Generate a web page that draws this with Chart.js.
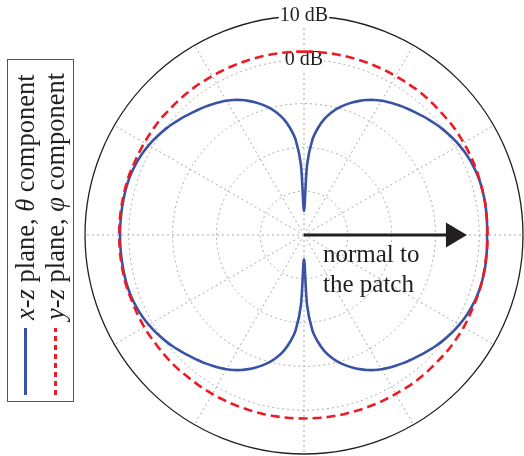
<!DOCTYPE html>
<html>
<head>
<meta charset="utf-8">
<title>Patch antenna radiation pattern</title>
<script src="https://cdn.jsdelivr.net/npm/chart.js@4.4.1/dist/chart.umd.min.js"></script>
<style>
  html, body { margin: 0; padding: 0; background: #fff; }
  body { width: 524px; height: 456px; overflow: hidden; position: relative; }
  #polar { position: absolute; left: 0; top: 0; }
  #legend {
    position: absolute; left: 7px; top: 402px;
    width: 343px; height: 67px; box-sizing: border-box;
    border: 1px solid #555; background: #fff;
    transform-origin: 0 0; transform: rotate(-90deg);
    padding-top: 2px;
    font: 26.5px "Liberation Serif", "Times New Roman", serif; color: #231f20;
  }
  .row { display: flex; align-items: center; height: 30px; white-space: nowrap; }
  .swatch { flex: none; width: 67px; height: 3px; margin-left: 6px; margin-right: 8px; }
  .solid { background: #3953a4; }
  .dashed { background: repeating-linear-gradient(to right, #ed1c24 0 5px, transparent 5px 9px); }
</style>
</head>
<body>
<canvas id="polar" width="540" height="480"></canvas>
<div id="legend">
  <div class="row"><span class="swatch solid"></span><span><i>x</i>-<i>z</i> plane, <i>θ</i> component</span></div>
  <div class="row"><span class="swatch dashed"></span><span><i>y</i>-<i>z</i> plane, <i>φ</i> component</span></div>
</div>
<script>
// angle from the patch normal (degrees, counter-clockwise), 2.5 degree steps
const angles = [
  0, 2.5, 5, 7.5, 10, 12.5, 15, 17.5, 20, 22.5, 25, 27.5,
  30, 32.5, 35, 37.5, 40, 42.5, 45, 47.5, 50, 52.5, 55, 57.5,
  60, 62.5, 65, 67.5, 70, 72.5, 75, 77.5, 80, 82.5, 85, 87.5,
  90, 92.5, 95, 97.5, 100, 102.5, 105, 107.5, 110, 112.5, 115, 117.5,
  120, 122.5, 125, 127.5, 130, 132.5, 135, 137.5, 140, 142.5, 145, 147.5,
  150, 152.5, 155, 157.5, 160, 162.5, 165, 167.5, 170, 172.5, 175, 177.5,
  180, 182.5, 185, 187.5, 190, 192.5, 195, 197.5, 200, 202.5, 205, 207.5,
  210, 212.5, 215, 217.5, 220, 222.5, 225, 227.5, 230, 232.5, 235, 237.5,
  240, 242.5, 245, 247.5, 250, 252.5, 255, 257.5, 260, 262.5, 265, 267.5,
  270, 272.5, 275, 277.5, 280, 282.5, 285, 287.5, 290, 292.5, 295, 297.5,
  300, 302.5, 305, 307.5, 310, 312.5, 315, 317.5, 320, 322.5, 325, 327.5,
  330, 332.5, 335, 337.5, 340, 342.5, 345, 347.5, 350, 352.5, 355, 357.5
];

// x-z plane, theta component (dB)
const xzTheta = [
  1.8, 1.85, 1.9, 1.95, 2.0, 2.0, 2.0, 1.95, 1.85, 1.7, 1.5, 1.25,
  0.95, 0.6, 0.2, -0.2, -0.65, -1.15, -1.65, -2.15, -2.6, -3.05, -3.55, -4.05,
  -4.6, -5.25, -6.0, -6.85, -7.8, -8.85, -10.0, -11.4, -13.1, -15.3, -18.2, -24.0,
  -34.5, -24.0, -18.2, -15.3, -13.1, -11.4, -10.0, -8.85, -7.8, -6.85, -6.0, -5.25,
  -4.6, -4.05, -3.55, -3.05, -2.6, -2.15, -1.65, -1.15, -0.65, -0.2, 0.2, 0.6,
  0.95, 1.25, 1.5, 1.7, 1.85, 1.95, 2.0, 2.0, 2.0, 2.0, 2.0, 2.0,
  2.0, 2.0, 2.0, 2.0, 2.0, 2.0, 2.0, 1.95, 1.85, 1.7, 1.5, 1.25,
  0.95, 0.6, 0.2, -0.2, -0.65, -1.15, -1.65, -2.15, -2.6, -3.05, -3.55, -4.05,
  -4.6, -5.25, -6.0, -6.85, -7.8, -8.85, -10.0, -11.4, -13.1, -15.3, -18.2, -24.0,
  -34.5, -24.0, -18.2, -15.3, -13.1, -11.4, -10.0, -8.85, -7.8, -6.85, -6.0, -5.25,
  -4.6, -4.05, -3.55, -3.05, -2.6, -2.15, -1.65, -1.15, -0.65, -0.2, 0.2, 0.6,
  0.95, 1.25, 1.5, 1.7, 1.85, 1.95, 2.0, 2.0, 2.0, 1.95, 1.9, 1.85
];

// y-z plane, phi component (dB)
const yzPhi = [
  1.9, 1.9, 1.9, 1.9, 2.0, 2.0, 2.0, 2.0, 2.1, 2.1, 2.1, 2.1,
  2.1, 2.1, 2.1, 2.1, 2.0, 2.0, 2.0, 2.0, 2.0, 2.0, 1.9, 1.9,
  1.9, 1.9, 1.9, 1.9, 1.9, 1.9, 1.9, 1.9, 1.9, 1.9, 1.9, 1.9,
  1.9, 1.9, 1.9, 1.9, 1.9, 1.9, 1.9, 1.9, 1.9, 1.9, 1.9, 1.9,
  1.9, 1.9, 2.0, 2.0, 2.0, 2.0, 2.0, 2.0, 2.1, 2.1, 2.1, 2.1,
  2.1, 2.1, 2.1, 2.1, 2.2, 2.2, 2.2, 2.2, 2.2, 2.2, 2.2, 2.2,
  2.2, 2.2, 2.2, 2.2, 2.2, 2.2, 2.2, 2.2, 2.1, 2.1, 2.1, 2.1,
  2.1, 2.1, 2.0, 2.0, 2.0, 2.0, 2.0, 2.0, 1.9, 1.9, 1.9, 1.9,
  1.9, 1.9, 1.9, 1.9, 1.9, 1.9, 1.9, 1.9, 1.9, 1.9, 1.9, 1.9,
  1.9, 1.9, 1.9, 1.9, 1.9, 1.9, 1.9, 1.9, 1.9, 1.9, 1.9, 1.9,
  1.9, 1.9, 2.0, 2.0, 2.0, 2.0, 2.0, 2.0, 2.1, 2.1, 2.1, 2.1,
  2.1, 2.1, 2.0, 2.0, 2.0, 2.0, 2.0, 2.0, 1.9, 1.9, 1.9, 1.9
];

const ringValues = [-40, -30, -20, -10, 0, 10];
const ringLabels = ['', '', '', '', '0 dB', '10 dB'];

const arrowTipDb = -2.8;
const arrowBaseDb = -7.6;
const normalText = ['normal to', 'the patch'];

const INK = '#231f20';
const GRID = '#a9a9a9';
const SERIF = '"Liberation Serif", "Times New Roman", serif';

// radar starts at the top and runs clockwise; the data starts at the normal (right) and runs counter-clockwise
const step = 2.5;
const n = angles.length;
const normalIndex = 90 / step;
const toRadar = (values) => values.map((_, j) => values[(normalIndex - j + n) % n]);
const spokeEvery = 30 / step;

const ringLabel = (v) => ringLabels[ringValues.indexOf(v)] || '';

const normalArrow = {
  id: 'normalArrow',
  afterDatasetsDraw(chart) {
    const r = chart.scales.r;
    const { ctx } = chart;
    const tip = r.getPointPosition(normalIndex, r.getDistanceFromCenterForValue(arrowTipDb));
    const base = r.getPointPosition(normalIndex, r.getDistanceFromCenterForValue(arrowBaseDb));
    ctx.save();
    ctx.strokeStyle = INK;
    ctx.fillStyle = INK;
    ctx.lineWidth = 3;
    ctx.beginPath();
    ctx.moveTo(r.xCenter, r.yCenter);
    ctx.lineTo(base.x + 1, base.y);
    ctx.stroke();
    ctx.beginPath();
    ctx.moveTo(tip.x, tip.y);
    ctx.lineTo(base.x, base.y - 12.5);
    ctx.lineTo(base.x, base.y + 12.5);
    ctx.closePath();
    ctx.fill();
    ctx.font = `25px ${SERIF}`;
    ctx.textAlign = 'left';
    ctx.textBaseline = 'alphabetic';
    ctx.fillText(normalText[0], r.xCenter + 19, r.yCenter + 27);
    ctx.fillText(normalText[1], r.xCenter + 19, r.yCenter + 57);
    ctx.restore();
  }
};

new Chart(document.getElementById('polar'), {
  type: 'radar',
  data: {
    labels: toRadar(angles),
    datasets: [
      {
        label: 'x-z plane, θ component',
        data: toRadar(xzTheta),
        borderColor: '#3953a4',
        borderWidth: 2.6,
        fill: false,
        tension: 0.3,
        order: 2
      },
      {
        label: 'y-z plane, φ component',
        data: toRadar(yzPhi),
        borderColor: '#ed1c24',
        borderWidth: 2.6,
        borderDash: [9, 5],
        fill: false,
        tension: 0,
        order: 1
      }
    ]
  },
  options: {
    responsive: false,
    animation: false,
    layout: { padding: { left: 74, top: 5, right: 6, bottom: 15 } },
    elements: { point: { radius: 0, hoverRadius: 0 } },
    plugins: { legend: { display: false }, tooltip: { enabled: false } },
    scales: {
      r: {
        min: -40,
        max: 10,
        startAngle: 0,
        beginAtZero: false,
        pointLabels: { display: false },
        ticks: {
          stepSize: 10,
          callback: ringLabel,
          color: INK,
          font: { family: SERIF, size: 20 },
          showLabelBackdrop: (ctx) => ringLabel(ctx.tick.value) !== '',
          backdropColor: '#fff',
          backdropPadding: 1
        },
        grid: {
          circular: true,
          color: (ctx) => (ctx.tick.value === 10 ? INK : GRID),
          lineWidth: (ctx) => (ctx.tick.value === 10 ? 1.3 : 1)
        },
        border: {
          dash: (ctx) => (ctx.tick && ctx.tick.value === 10 ? [] : [2, 3])
        },
        angleLines: {
          color: GRID,
          lineWidth: (ctx) => (ctx.index % spokeEvery === 0 ? 1 : 0),
          borderDash: [2, 3]
        }
      }
    }
  },
  plugins: [normalArrow]
});
</script>
</body>
</html>
